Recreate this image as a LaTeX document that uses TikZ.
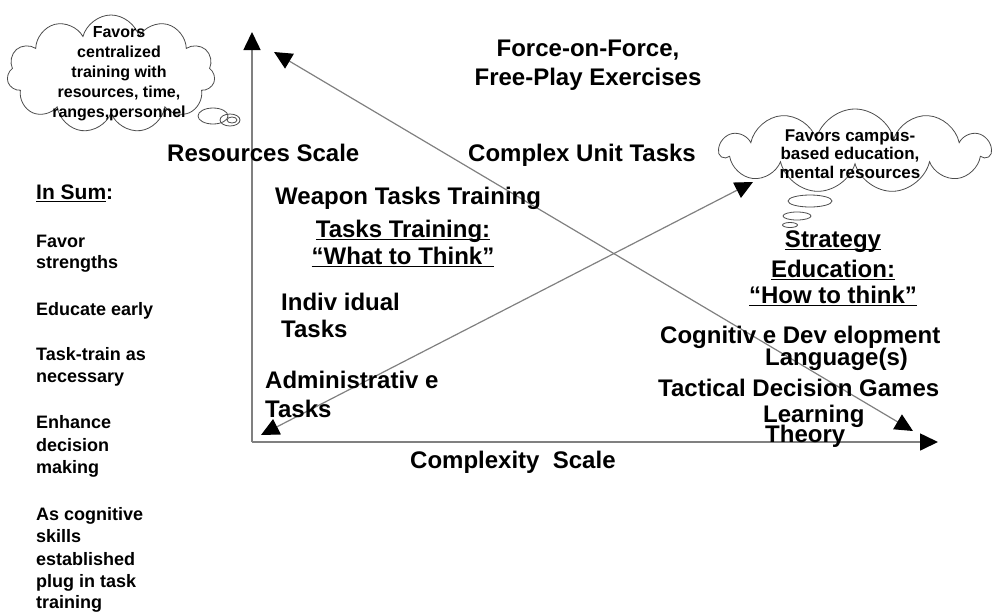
\documentclass[tikz,border=0pt]{standalone}
\usepackage{fontspec}
\setmainfont{Liberation Sans}
\usetikzlibrary{arrows.meta,shapes.symbols}

% subrayado algo mas grueso que \underline
\newcommand{\subr}[1]{\setbox0\hbox{#1}\rlap{\rule[-3pt]{\wd0}{1.4pt}}\box0}

\tikzset{
  punta/.tip={Triangle[length=18pt,width=17pt,color=black]},
  eje/.style={draw=black!50, line width=1.6pt, -punta},
  flecha/.style={draw=black!50, line width=1.2pt, punta-punta},
  txt/.style={anchor=base west, inner sep=0pt, font=\fontsize{24}{26}\selectfont\bfseries},
  ctxt/.style={anchor=base, inner sep=0pt, font=\fontsize{24}{26}\selectfont\bfseries},
  lista/.style={anchor=base west, inner sep=0pt, font=\fontsize{18}{20}\selectfont\bfseries},
  nube/.style={cloud, cloud puffs=11, cloud ignores aspect, draw=black!70, line width=0.8pt,
    inner sep=0pt},
  nubetxt/.style={align=center, inner sep=0pt},
  burbuja/.style={draw=black!70, line width=0.8pt}
}

\begin{document}
\begin{tikzpicture}[x=1pt, y=-1pt]  % coordenadas en puntos, y hacia abajo
  \useasboundingbox (0,0) rectangle (995,614);

  % Ejes: recursos (vertical) y complejidad (horizontal)
  \coordinate (O) at (252,442);
  \coordinate (ytop) at (252,32);
  \coordinate (xend) at (938,442);
  \draw[eje] (O) -- (ytop);
  \draw[eje] (O) -- (xend);

  % Las dos diagonales con doble punta
  \coordinate (p1) at (274,52);
  \coordinate (q1) at (913,431);
  \coordinate (p2) at (261,435);
  \coordinate (q2) at (753,182);
  \draw[flecha] (p1) -- (q1);
  \draw[flecha] (p2) -- (q2);

  % Nubes de pensamiento
  \node[nube, minimum width=208pt, minimum height=118pt] (nube1) at (111,74) {};
  \node[nubetxt, font=\fontsize{16}{20}\selectfont\bfseries] (texto1) at (119,74)
    {Favors\\centralized\\training with\\resources, time,\\ranges,personnel};
  \draw[burbuja] (213,116) ellipse [x radius=15pt, y radius=8pt];
  \draw[burbuja] (230,120) ellipse [x radius=10pt, y radius=6pt];
  \draw[burbuja] (232,120) ellipse [x radius=5pt, y radius=3pt];

  \node[nube, minimum width=270pt, minimum height=84pt] (nube2) at (855,151) {};
  \node[nubetxt, font=\fontsize{17}{18.5}\selectfont\bfseries] (texto2) at (850,154)
    {Favors campus-\\based education,\\mental resources};
  \draw[burbuja] (810,201) ellipse [x radius=22pt, y radius=6pt];
  \draw[burbuja] (797,216) ellipse [x radius=14pt, y radius=4pt];
  \draw[burbuja] (790,225) ellipse [x radius=7.5pt, y radius=2.5pt];

  % Rotulos de los ejes
  \node[txt] (recursos) at (167,161) {Resources Scale};
  \node[txt] (complejidad) at (410,468) {Complexity\ \ Scale};

  % Tareas, de las simples a las complejas
  \node[ctxt] (fuerza1) at (588,56) {Force-on-Force,};
  \node[ctxt] (fuerza2) at (588,85) {Free-Play Exercises};
  \node[txt] (unidad) at (468,161) {Complex Unit Tasks};
  \node[txt] (armas) at (275,204) {Weapon Tasks Training};
  \node[ctxt] (tareas1) at (403,237) {\subr{Tasks Training:}};
  \node[ctxt] (tareas2) at (403,264) {\subr{“What to Think”}};
  \node[txt] (indiv1) at (281,310) {Indiv idual};
  \node[txt] (indiv2) at (281,337) {Tasks};
  \node[txt] (admin1) at (265,388) {Administrativ e};
  \node[txt] (admin2) at (265,417) {Tasks};

  % Lado de la educacion
  \node[ctxt] (estrategia1) at (833,247) {\subr{Strategy}};
  \node[ctxt] (estrategia2) at (833,277) {\subr{Education:}};
  \node[ctxt] (estrategia3) at (833,303) {\subr{“How to think”}};
  \node[txt] (cogn) at (660,343) {Cognitiv e Dev elopment};
  \node[txt] (lengua) at (765,365) {Language(s)};
  \node[txt] (tactica) at (658,396) {Tactical Decision Games};
  \node[txt] (teoria1) at (763,422) {Learning};
  \node[txt] (teoria2) at (765,442) {Theory};

  % Resumen a la izquierda
  \node[anchor=base west, inner sep=0pt, font=\fontsize{21}{24}\selectfont\bfseries]
    (ensuma) at (36,199) {\subr{In Sum}:};
  \foreach \y/\t [count=\i] in {247/Favor, 268/strengths, 315/Educate early,
      360/Task-train as, 382/necessary, 428/Enhance, 451/decision, 473/making,
      520/As cognitive, 542/skills, 565/established, 587/plug in task, 608/training}
    \node[lista] (suma\i) at (36,\y) {\t};
\end{tikzpicture}
\end{document}
